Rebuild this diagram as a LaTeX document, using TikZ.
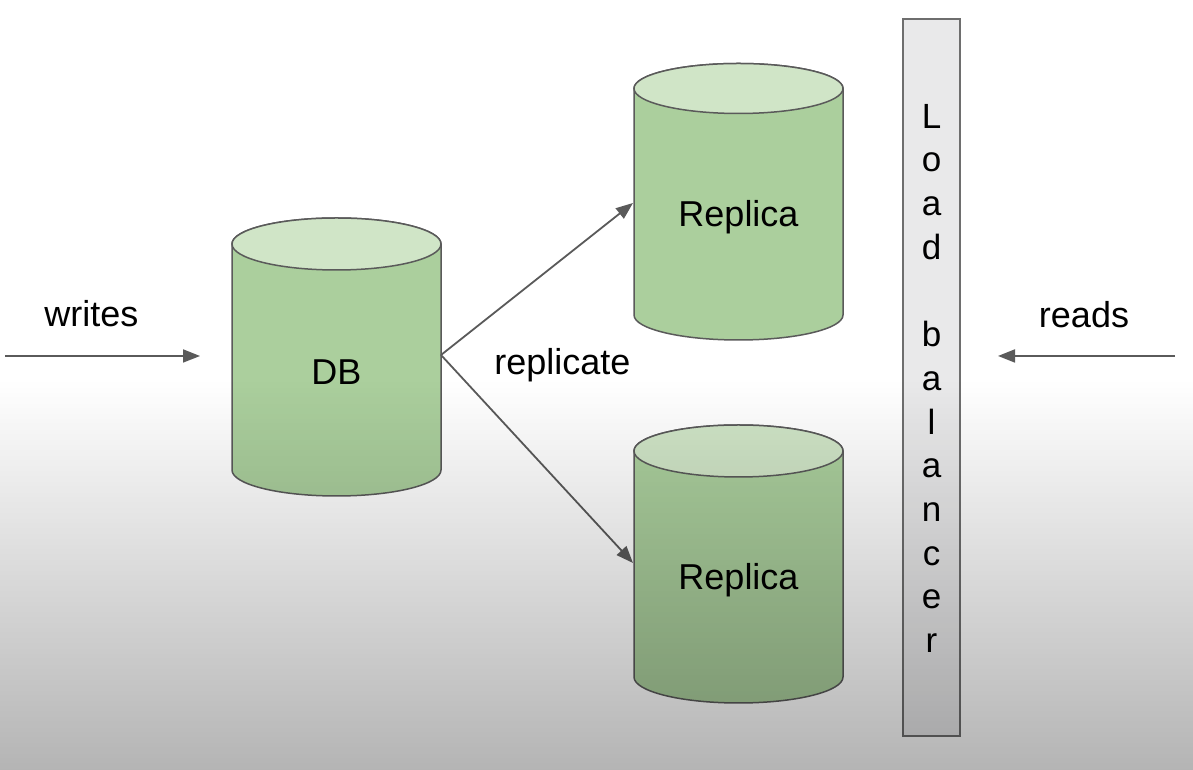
\documentclass[tikz,border=0pt]{standalone}
\usepackage{fontspec}
\setmainfont{Liberation Sans}
\usetikzlibrary{arrows.meta,fadings}
\tikzfading[name=shadefade, top color=transparent!100, bottom color=transparent!0]
\definecolor{bodyg}{HTML}{ABCF9D}
\definecolor{topg}{HTML}{D0E5C7}
\definecolor{lineg}{HTML}{5A5A5A}
\definecolor{lbfill}{HTML}{E9E9EA}
\definecolor{lbline}{HTML}{6E6E6E}
\tikzset{
  cylline/.style={draw=lineg, line width=1.5pt},
  lbl/.style={font=\fontsize{36}{40.5}\selectfont, text=black, inner sep=0pt, anchor=base},
  conn/.style={draw=lineg, line width=1.8pt, -{Triangle[length=17pt,width=13pt]}},
}
\begin{document}
\begin{tikzpicture}[x=1pt,y=1pt]
\useasboundingbox (0,0) rectangle (1193,770);
\fill[white] (0,0) rectangle (1193,770);

% cylinders: cx / top centre y / bottom centre y / ry
\foreach \cx/\yt/\yb/\ry in {336.5/526/300/26, 738.5/681.5/455/25, 738.5/319/93/26}{
  \path[cylline, fill=bodyg] (\cx-104.5,\yt) -- (\cx-104.5,\yb)
     arc[start angle=180, end angle=360, x radius=104.5, y radius=\ry]
     -- (\cx+104.5,\yt)
     arc[start angle=0, end angle=180, x radius=104.5, y radius=\ry] -- cycle;
  \path[cylline, fill=topg] (\cx,\yt) ellipse[x radius=104.5, y radius=\ry];
}

\node[lbl] (db) at (336.5,385) {DB};
\node[lbl] (rep1) at (738.5,543) {Replica};
\node[lbl] (rep2) at (738.5,180) {Replica};

% load balancer
\node[draw=lbline, line width=1.5pt, fill=lbfill, minimum width=57pt, minimum height=717pt, inner sep=0pt] (lb) at (931.5,392.5) {};
\node[font=\fontsize{35}{43.7}\selectfont, align=center, inner sep=0pt, anchor=north] (lbtext) at (931.5,666)
  {L\\o\\a\\d\\~\\b\\a\\l\\a\\n\\c\\e\\r};

% labels
\node[lbl] (writes) at (91.5,443) {writes};
\node[lbl] (reads) at (1084,442) {reads};
\node[lbl] (repl) at (562.5,395) {replicate};

% connector end points
\coordinate (wS) at (5,414);
\coordinate (wE) at (200,414);
\coordinate (rS) at (1175,414);
\coordinate (rE) at (998,414);
\coordinate (dbR) at (441,415);
\coordinate (r1L) at (633,567);
\coordinate (r2L) at (633,207);

\draw[conn] (wS) -- (wE);
\draw[conn] (rS) -- (rE);
\draw[conn] (dbR) -- (r1L);
\draw[conn] (dbR) -- (r2L);

% bottom shading of the frame
\fill[black, fill opacity=0.294, path fading=shadefade] (0,0) rectangle (1193,390);
\end{tikzpicture}
\end{document}
